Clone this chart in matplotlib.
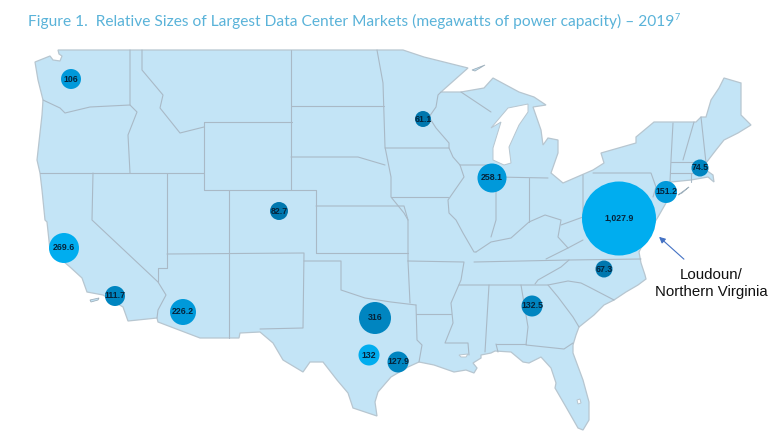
from matplotlib import pyplot as plt
from matplotlib.patches import Polygon

# market values (MW)
markets = ["Seattle", "Minneapolis", "Denver", "Chicago", "New York/NJ", "Boston", "Northern Virginia",
           "Silicon Valley", "Los Angeles", "Phoenix", "Dallas", "Austin/San Antonio", "Houston",
           "Atlanta", "Raleigh"]
values = [106, 61.1, 82.7, 258.1, 151.2, 74.5, 1027.9, 269.6, 111.7, 226.2, 316, 132, 127.9, 132.5, 67.3]

# where they sit on the map, in picture pixels
market_x = [71, 423, 279, 492, 666, 700, 619, 64, 115, 183, 375, 369, 398, 532, 604]
market_y = [79, 119, 211, 178, 192, 168, 218.5, 248, 296, 312, 318, 355, 362, 306, 269]
market_r = [10, 8, 9, 14.5, 11, 8.5, 37, 15, 10, 13, 16, 10.5, 10.5, 10.5, 8.5]
market_c = ["#0099DA", "#0077AE", "#0077AE", "#0099DA", "#0099DA", "#0085C0", "#00ADEF", "#00ADEF",
            "#0085C0", "#0099DA", "#0085C0", "#00ADEF", "#0085C0", "#0085C0", "#0077AE"]

# outline of the country, clockwise from the north west
outline = [(58, 50), (59, 54), (62, 56), (60, 61), (53, 60), (50, 56), (35, 62), (38, 80), (43, 100), (42, 115),
           (40, 133), (37, 160), (40, 173), (42, 190), (45, 220), (47, 222), (50, 250), (70, 267), (82, 278),
           (87, 292), (103, 295), (123, 307), (128, 321), (157, 318), (158, 322), (200, 338), (239, 338),
           (240, 333), (260, 332), (273, 343), (283, 360), (303, 372), (310, 362), (323, 362), (337, 380),
           (348, 393), (353, 408), (377, 416), (375, 402), (378, 392), (391, 377), (408, 367), (419, 362),
           (434, 365), (454, 372), (466, 370), (474, 373), (477, 368), (473, 363), (481, 358), (481, 355),
           (491, 353), (495, 351), (511, 352), (523, 362), (529, 363), (541, 357), (551, 368), (556, 383),
           (555, 388), (566, 407), (578, 428), (583, 430), (589, 420), (589, 402), (583, 380), (573, 353),
           (573, 345), (576, 335), (579, 327), (594, 315), (604, 305), (614, 300), (626, 292), (638, 285),
           (646, 279), (645, 275), (641, 263), (639, 252), (650, 230), (658, 217), (666, 203), (669, 192),
           (671, 182), (691, 180), (708, 177), (714, 182), (713, 175), (706, 170), (706, 163), (716, 150),
           (724, 140), (738, 133), (751, 125), (741, 115), (741, 83), (724, 78), (719, 88), (711, 100),
           (706, 117), (701, 117), (696, 122), (654, 122), (636, 137), (636, 143), (601, 153), (604, 163),
           (593, 170), (563, 183), (551, 173), (558, 153), (558, 140), (548, 138), (543, 145), (541, 130),
           (533, 107), (546, 105), (534, 97), (519, 92), (493, 78), (484, 88), (461, 92), (441, 92), (468, 68),
           (424, 57), (403, 50), (391, 50)]

lake_michigan = [(528, 104), (508, 108), (491, 128), (501, 122), (493, 148), (493, 160), (504, 165), (511, 163),
                 (509, 147), (519, 125), (528, 112)]
lake_pontchartrain = [(459, 355), (468, 354), (466, 357), (461, 357)]
lake_okeechobee = [(577, 400), (580, 399), (581, 403), (578, 404)]
long_island = [(678, 195), (689, 187), (682, 193)]
channel_islands = [(90, 300), (99, 298), (98, 300), (91, 302)]
isle_royale = [(472, 70), (485, 65), (475, 71)]

# state borders, each one a run of points
borders = [
    [(43, 100), (60, 108), (65, 113), (90, 107), (130, 105)],
    [(130, 50), (130, 105), (137, 112), (128, 135), (130, 173)],
    [(40, 173), (204, 173)],
    [(142, 50), (142, 70), (163, 95), (160, 108), (180, 133), (204, 127)],
    [(204, 122), (292, 122)],
    [(204, 122), (204, 190), (316, 190), (316, 253)],
    [(291, 50), (291, 190)],
    [(291, 106), (384, 106)],
    [(291, 157), (358, 157), (385, 165)],
    [(93, 173), (92, 220), (158, 282), (166, 295), (158, 310), (157, 318)],
    [(167, 173), (167, 254), (167, 268), (158, 268), (158, 282)],
    [(229, 190), (229, 338)],
    [(167, 254), (304, 253), (303, 328), (260, 329)],
    [(316, 206), (404, 206), (408, 220), (408, 253), (408, 261)],
    [(316, 253), (408, 253)],
    [(304, 261), (341, 261), (341, 290), (365, 298), (391, 302), (416, 305)],
    [(408, 261), (410, 303)],
    [(408, 261), (464, 262), (461, 280), (451, 303), (453, 323), (445, 343), (468, 343), (469, 355)],
    [(416, 305), (417, 340), (422, 345), (419, 362)],
    [(416, 314), (451, 314)],
    [(459, 285), (548, 285), (568, 281), (581, 283), (589, 287), (614, 300)],
    [(474, 262), (569, 260), (641, 259)],
    [(569, 260), (561, 267), (538, 280), (535, 284)],
    [(548, 285), (558, 297), (573, 317), (579, 327)],
    [(489, 285), (485, 352)],
    [(521, 285), (528, 327), (526, 345), (564, 349), (573, 343)],
    [(496, 344), (526, 344)],
    [(496, 344), (498, 352)],
    [(377, 50), (383, 83), (385, 147), (391, 177), (391, 197), (404, 213), (408, 220)],
    [(385, 148), (449, 148), (453, 157), (460, 165), (493, 165)],
    [(441, 92), (438, 95), (436, 107), (429, 117), (436, 128), (449, 143), (449, 148)],
    [(391, 197), (448, 197)],
    [(460, 165), (464, 177), (448, 200), (449, 213), (456, 220), (463, 233), (474, 252), (476, 252)],
    [(476, 252), (491, 242), (511, 238), (529, 222), (545, 215), (561, 220), (558, 237), (568, 248), (546, 259)],
    [(496, 177), (496, 220), (491, 237)],
    [(461, 92), (491, 112)],
    [(496, 177), (548, 178)],
    [(529, 178), (529, 222)],
    [(583, 175), (583, 217), (561, 225)],
    [(593, 173), (651, 173), (656, 187), (653, 197)],
    [(568, 248), (583, 240)],
    [(673, 123), (671, 160), (670, 182)],
    [(694, 122), (683, 160)],
    [(701, 117), (706, 163)],
    [(671, 162), (706, 162)],
    [(670, 173), (693, 173)],
    [(691, 173), (691, 182)],
]

title = "Figure 1.  Relative Sizes of Largest Data Center Markets (megawatts of power capacity) \u2013 2019"
land = "#C3E4F6"
line = "#A9B9C6"

fig = plt.figure(figsize=(7.82, 4.41), dpi=100)
ax = fig.add_axes([0, 0, 1, 1])
ax.set_xlim(0, 782)
ax.set_ylim(441, 0)
ax.axis("off")

ax.add_patch(Polygon(outline, closed=True, facecolor=land, edgecolor="#B7C6D0", lw=0.9, zorder=1))
for lake in [lake_michigan, lake_pontchartrain, lake_okeechobee]:
    ax.add_patch(Polygon(lake, closed=True, facecolor="white", edgecolor="#B7C6D0", lw=0.7, zorder=2))
for shape in [long_island, channel_islands, isle_royale]:
    ax.add_patch(Polygon(shape, closed=True, facecolor=land, edgecolor="#9FB0BC", lw=0.6, zorder=1))

for run in borders:
    ax.plot([p[0] for p in run], [p[1] for p in run], color=line, lw=0.8, zorder=2, solid_capstyle="round")

# radius in pixels -> scatter size in points^2
sizes = [(2 * r * 72 / fig.dpi) ** 2 for r in market_r]
ax.scatter(market_x, market_y, s=sizes, c=market_c, linewidths=0, zorder=3)

for x, y, v in zip(market_x, market_y, values):
    ax.text(x, y, f"{v:,g}", ha="center", va="center", fontsize=6.3, fontweight="bold",
            family="Liberation Sans", color="#06233A", zorder=4)

ax.annotate("", xy=(657, 235), xytext=(686, 261),
            arrowprops=dict(arrowstyle="-|>", color="#4472C4", lw=0.8, mutation_scale=9), zorder=4)
ax.text(711, 275, "Loudoun/", ha="center", va="center", fontsize=10.8, family="Liberation Sans", color="#111111")
ax.text(711, 292, "Northern Virginia", ha="center", va="center", fontsize=10.8, family="Liberation Sans",
        color="#111111")

ax.text(28, 21, title, ha="left", va="center", fontsize=11.15, family="Lato", color="#5AB3D9")
ax.text(675, 18, "7", ha="left", va="center", fontsize=6.5, family="Lato", color="#5AB3D9")

fig.savefig("out.png", dpi=100)
